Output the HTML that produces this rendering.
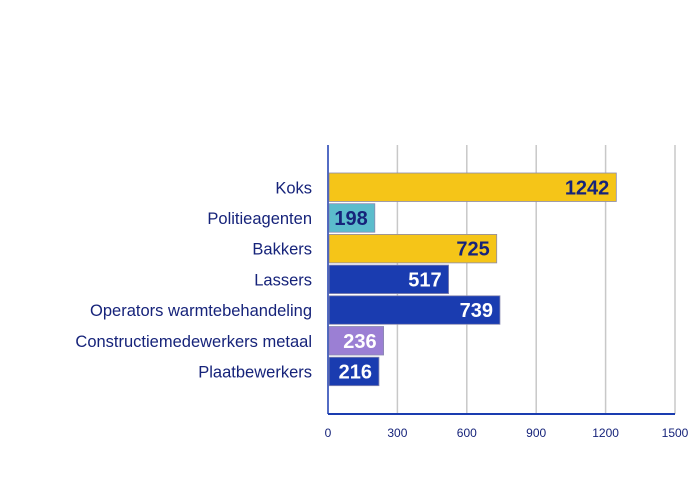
<!DOCTYPE html>
<html><head><meta charset="utf-8"><style>
body{margin:0;background:#fff;}
svg{display:block;font-family:"Liberation Sans",sans-serif;}
</style></head><body>
<svg id="chart" width="700" height="500"></svg>
<script>
const categories=["Koks","Politieagenten","Bakkers","Lassers","Operators warmtebehandeling","Constructiemedewerkers metaal","Plaatbewerkers"];
const values=[1242,198,725,517,739,236,216];
const colors=["#f5c518","#5bbccc","#f5c518","#1a3cb0","#1a3cb0","#9b7fd4","#1a3cb0"];
const textColors=["#16237a","#16237a","#16237a","#ffffff","#ffffff","#ffffff","#ffffff"];
const ticks=[0,300,600,900,1200,1500];
const NS="http://www.w3.org/2000/svg";
const svgEl=document.getElementById("chart");
const x0=328,x1=675,plotTop=145,plotBottom=414,firstY=173,pitch=30.7,bh=28.5;
const xs=v=>x0+(v/1500)*(x1-x0);
function mk(t,a){const e=document.createElementNS(NS,t);for(const k in a)e.setAttribute(k,a[k]);svgEl.appendChild(e);return e;}
ticks.forEach((t,i)=>{
 if(i>0){const g=mk("line",{x1:xs(t),x2:xs(t),y1:plotTop,y2:plotBottom,stroke:"#c8c8c8","stroke-width":1.5});
 
 }
 const tl=mk("text",{x:xs(t),y:437,"text-anchor":"middle","font-size":12,fill:"#16237a"});
 tl.textContent=t;
 
 
});
const ya=mk("line",{x1:x0,x2:x0,y1:plotTop,y2:plotBottom,stroke:"#1a3cb0","stroke-width":1.5});


const xa=mk("line",{x1:x0,x2:x1,y1:plotBottom,y2:plotBottom,stroke:"#1a3cb0","stroke-width":2});


categories.forEach((c,i)=>{
 const y=firstY+i*pitch;
 const r=mk("rect",{x:x0+1,y:y,width:xs(values[i])-x0,height:bh,fill:colors[i],stroke:"#8a8ab0","stroke-width":0.8});
 
 
 const v=mk("text",{x:xs(values[i])-6,y:y+bh/2+7,"text-anchor":"end","font-size":20,"font-weight":"bold",fill:textColors[i]});
 v.textContent=values[i];
 
 
 const l=mk("text",{x:312,y:y+bh/2+6,"text-anchor":"end","font-size":16.5,fill:"#16237a"});
 l.textContent=c;
 
 
});
</script>
</body></html>
